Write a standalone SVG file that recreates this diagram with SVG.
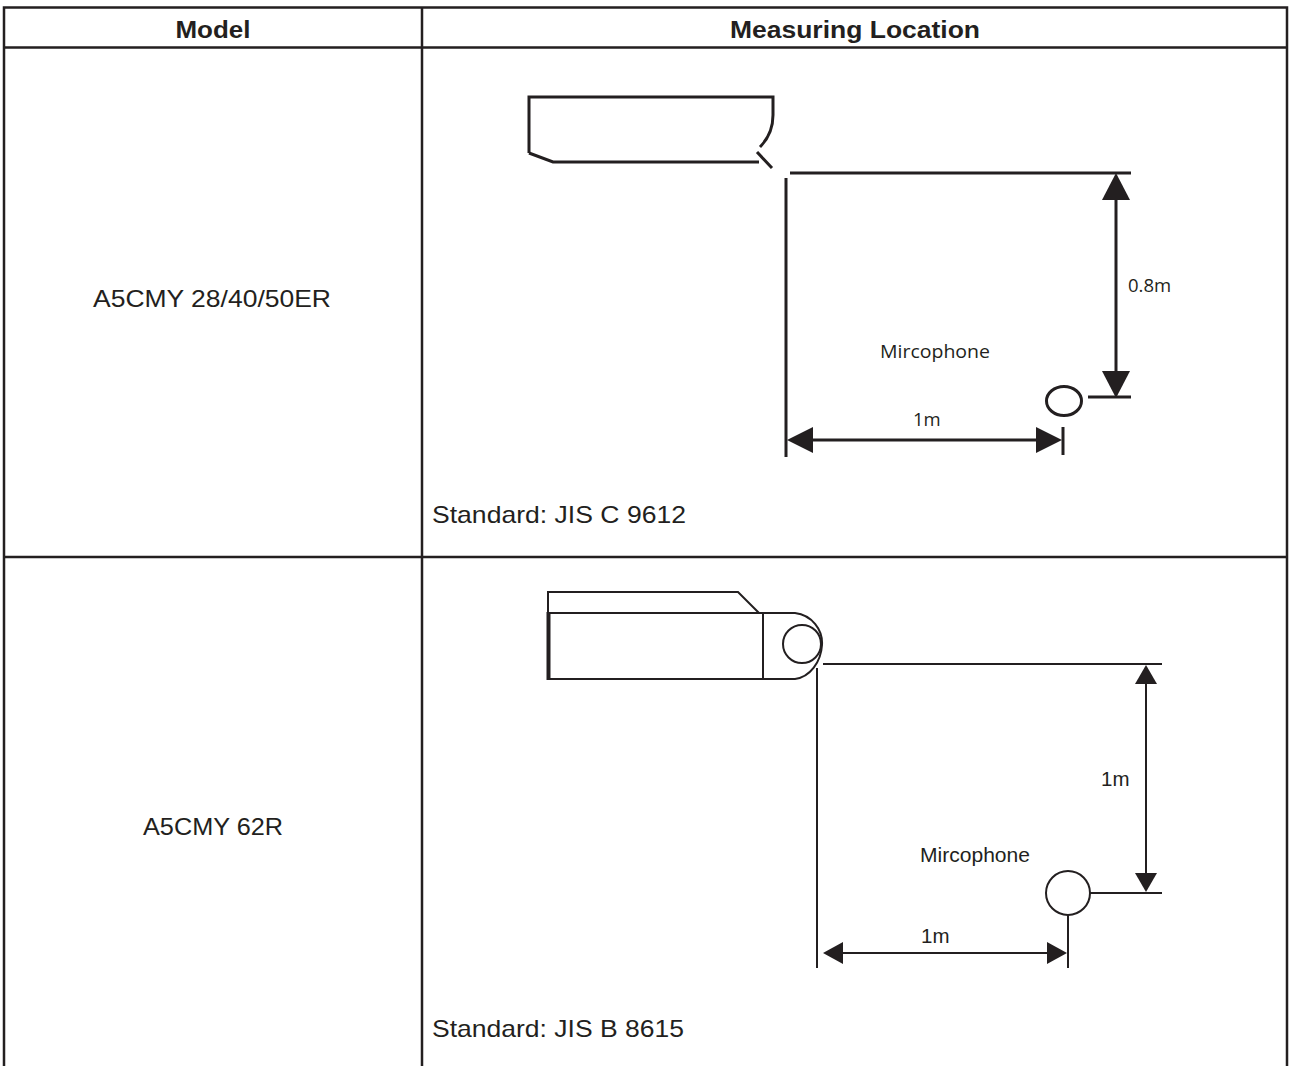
<svg xmlns="http://www.w3.org/2000/svg" width="1290" height="1066" viewBox="0 0 1290 1066">
<style>
.grid{stroke:#231f20;stroke-width:2.5;fill:none}
.hd{font-family:"Liberation Sans",Arial,sans-serif;font-weight:bold;font-size:23px;fill:#231f20;text-anchor:middle}
.tx{font-family:"Liberation Sans",Arial,sans-serif;font-size:24px;fill:#231f20}
.l1{stroke:#231f20;stroke-width:3;fill:none}
.l2{stroke:#231f20;stroke-width:2;fill:none}
.ah{fill:#231f20}
.s1{font-family:"Open Sans","Noto Sans",sans-serif;font-size:18.5px;fill:#231f20}
.s2{font-family:"Liberation Sans",Arial,sans-serif;font-size:20.5px;fill:#231f20}
</style>
<rect width="1290" height="1066" fill="#fff"/>
<g id="table">
<path class="grid" d="M4,1066 V7.5 H1287 V1066 M4,47.5 H1287 M4,557 H1287 M422,7.5 V1066"/>
</g>
<g id="header">
<text class="hd" x="213" y="37.5" textLength="75" lengthAdjust="spacingAndGlyphs">Model</text>
<text class="hd" x="855" y="37.5" textLength="250" lengthAdjust="spacingAndGlyphs">Measuring Location</text>
</g>
<g id="row1-model"><text class="tx" x="212" y="306.5" text-anchor="middle" textLength="238" lengthAdjust="spacingAndGlyphs">A5CMY 28/40/50ER</text></g>
<g id="row2-model"><text class="tx" x="213" y="835" text-anchor="middle" textLength="140" lengthAdjust="spacingAndGlyphs">A5CMY 62R</text></g>
<g id="row1-diagram">
<path class="l1" d="M529,153 V97 H773 V115 C773,128 769,138 760,147"/>
<path class="l1" d="M529,153 L553,162 H759"/>
<path class="l1" d="M757,152 L772,168"/>
<path class="l1" d="M790,173 H1131"/>
<path class="l1" d="M786,178 V457"/>
<path class="l1" d="M1116,198 V374"/>
<polygon class="ah" points="1116,173 1102,200 1130,200"/>
<polygon class="ah" points="1116,398 1102,371 1130,371"/>
<path class="l1" d="M1088,397 H1131"/>
<ellipse class="l1" cx="1064" cy="401" rx="17.5" ry="14.5" stroke-width="2.5"/>
<path class="l1" d="M810,440 H1040"/>
<polygon class="ah" points="787,440 813,427 813,453"/>
<polygon class="ah" points="1062,440 1036,427 1036,453"/>
<path class="l1" d="M1063,427 V455"/>
<text class="s1" x="1128" y="292">0.8m</text>
<text class="s1" x="880" y="358" textLength="110" lengthAdjust="spacingAndGlyphs">Mircophone</text>
<text class="s1" x="913" y="426">1m</text>
<text class="tx" x="432" y="523" textLength="254" lengthAdjust="spacingAndGlyphs">Standard: JIS C 9612</text>
</g>
<g id="row2-diagram">
<path class="l2" d="M548,613 V592 H738 L759,613"/>
<path class="l2" d="M548,613 H795 C812,615 823,630 822,645 C821,662 810,677 795,679 H548"/>
<path d="M548.5,612 V680" stroke="#231f20" stroke-width="4"/>
<path class="l2" d="M763,613 V679"/>
<circle class="l2" cx="802" cy="644" r="19"/>
<path class="l2" d="M823,664 H1162"/>
<path class="l2" d="M817,668 V968"/>
<path class="l2" d="M1146,680 V876"/>
<polygon class="ah" points="1146,665 1135,684 1157,684"/>
<polygon class="ah" points="1146,892 1135,873 1157,873"/>
<path class="l2" d="M1090,893 H1162"/>
<circle class="l2" cx="1068" cy="893" r="22"/>
<path class="l2" d="M1068,915 V968"/>
<path class="l2" d="M838,953 H1050"/>
<polygon class="ah" points="823,953 843,942 843,964"/>
<polygon class="ah" points="1067,953 1047,942 1047,964"/>
<text class="s2" x="1101" y="786">1m</text>
<text class="s2" x="920" y="862" textLength="110" lengthAdjust="spacingAndGlyphs">Mircophone</text>
<text class="s2" x="921" y="943">1m</text>
<text class="tx" x="432" y="1037" textLength="252" lengthAdjust="spacingAndGlyphs">Standard: JIS B 8615</text>
</g>
</svg>
